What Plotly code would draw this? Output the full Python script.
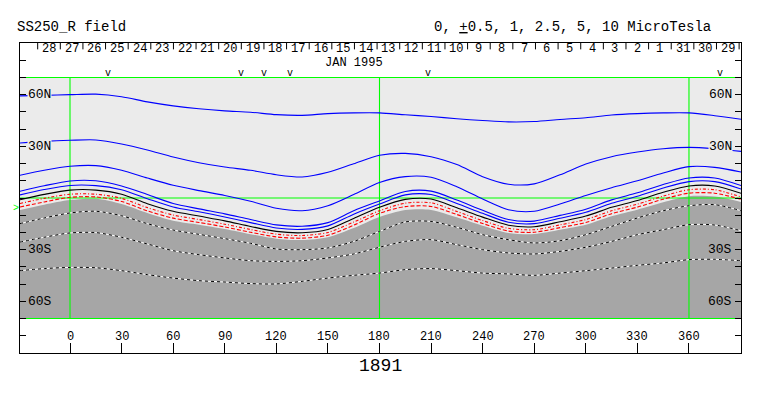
import plotly.graph_objects as go

# ---------------- data ----------------
lons = [-29.1, -15, 0, 15, 30, 45, 60, 75, 90, 105, 120, 135, 150, 165, 180,
        195, 210, 225, 240, 255, 270, 285, 300, 315, 330, 345, 360, 375, 390.3]

# positive-field contours (blue), top to bottom
blue_1 = [59.3, 59.6, 60.0, 60.3, 58.8, 55.8, 53.5, 51.8, 50.6, 49.8, 48.4, 48.0, 49.0, 49.4, 49.4,
          48.3, 47.3, 46.0, 45.0, 44.2, 44.4, 45.6, 46.6, 48.2, 49.0, 49.4, 49.4, 47.8, 45.7]
blue_2 = [31.9, 32.9, 33.5, 33.7, 31.4, 27.9, 23.8, 20.5, 18.0, 16.1, 13.5, 12.2, 14.9, 19.9, 24.8,
          25.9, 24.0, 19.4, 12.4, 8.0, 8.2, 13.5, 19.7, 24.0, 26.7, 28.6, 29.4, 28.6, 27.1]
blue_3 = [13.2, 16.1, 18.4, 18.8, 16.1, 11.6, 7.4, 4.3, 1.5, -1.9, -6.0, -7.4, -4.5, 2.0, 9.0,
          12.4, 12.0, 6.5, -0.6, -6.8, -7.7, -3.5, 1.5, 6.0, 10.0, 14.5, 18.2, 17.8, 15.1]
blue_4 = [3.9, 7.1, 9.9, 10.0, 7.0, 2.0, -3.2, -6.3, -9.2, -12.5, -15.6, -16.4, -14.3, -7.4, -1.7,
          3.8, 4.0, -1.2, -7.1, -12.5, -13.4, -10.1, -6.5, -1.1, 3.0, 7.8, 11.6, 11.6, 7.2]
blue_5 = [1.8, 4.9, 7.3, 7.2, 4.8, -0.4, -5.2, -8.0, -11.0, -14.3, -17.4, -18.2, -16.2, -9.4, -3.5,
          1.8, 2.0, -3.2, -8.9, -14.1, -14.9, -11.8, -8.3, -3.1, 1.0, 5.8, 9.5, 9.5, 5.2]
# black solid contour
black_1 = [-1.0, 2.1, 4.6, 4.6, 2.2, -3.3, -7.7, -10.5, -13.3, -16.5, -19.4, -20.2, -18.3, -11.9, -5.4,
           -0.8, -0.6, -5.7, -11.1, -15.8, -16.7, -13.8, -10.5, -5.4, -1.5, 3.3, 7.0, 7.0, 2.7]
# red contours
red_dashdot = [-3.2, -0.2, 2.2, 2.2, -0.2, -5.6, -9.9, -12.5, -15.2, -18.3, -21.0, -21.8, -20.0, -14.0, -7.4,
               -3.0, -2.8, -7.8, -13.1, -17.6, -18.4, -15.6, -12.5, -7.4, -3.6, 1.1, 4.8, 4.8, 0.6]
red_dash = [-5.2, -2.3, 0.4, 0.6, -2.0, -7.5, -11.7, -14.2, -16.8, -19.9, -22.6, -23.3, -21.6, -15.8, -8.9,
            -5.0, -4.9, -9.6, -14.8, -19.2, -19.9, -17.2, -14.2, -9.1, -5.3, -0.7, 2.8, 2.8, -0.8]
# boundary of the negative (grey) region
neutral = [-7.0, -3.9, -1.2, -0.5, -3.5, -8.7, -13.2, -15.5, -18.0, -21.0, -23.6, -24.4, -22.8, -17.4, -11.0,
           -7.0, -6.9, -11.2, -16.1, -20.3, -20.9, -18.4, -15.5, -10.6, -6.8, -2.5, 1.0, 0.8, -2.3]
# negative-field contours (black/white dashed)
neg_1 = [-14.9, -11.6, -8.7, -7.7, -10.3, -14.9, -18.6, -21.1, -23.6, -26.3, -29.6, -30.0, -29.0, -25.2, -19.4,
         -13.9, -13.6, -17.0, -21.3, -24.2, -26.1, -24.8, -21.3, -16.5, -11.6, -7.4, -4.5, -3.9, -7.4]
neg_2 = [-25.6, -22.8, -20.3, -20.1, -22.8, -26.7, -30.6, -32.9, -34.8, -36.4, -36.8, -36.4, -34.8, -32.5, -28.6,
         -25.2, -24.2, -27.1, -30.0, -31.9, -32.5, -31.0, -28.6, -25.2, -21.3, -18.4, -15.5, -15.7, -19.0]
neg_3 = [-42.2, -41.0, -40.3, -40.5, -42.2, -44.5, -46.5, -48.0, -48.8, -49.7, -49.9, -48.4, -46.5, -44.9, -43.6,
         -41.6, -41.0, -42.2, -43.6, -44.1, -44.9, -43.6, -42.2, -40.7, -39.1, -37.7, -35.8, -35.6, -36.4]

# axes / annotations
lon_ticks = [0, 30, 60, 90, 120, 150, 180, 210, 240, 270, 300, 330, 360]
lat_ticks = [-80, -70, -60, -50, -40, -30, -20, -10, 0, 10, 20, 30, 40, 50, 60, 70, 80]
lat_labels = {60: "60N", 30: "30N", -30: "30S", -60: "60S"}
grid_lons = [0, 180, 360]
day_labels = [28, 27, 26, 25, 24, 23, 22, 21, 20, 19, 18, 17, 16, 15, 14, 13, 12, 11, 10,
              9, 8, 7, 6, 5, 4, 3, 2, 1, 31, 30, 29]
day_first_tick = -18.8      # Carrington longitude of first day boundary
deg_per_day = 13.16
marker_lons = [22, 99.5, 113, 128, 208, 378]
month_label = "JAN 1995"
rotation = "1891"

X0, X1 = -29.08, 390.26
LAT_LIM = 70
FONT = "Liberation Mono"
LIGHT = "#ebebeb"
DARK = "#a6a6a6"
GREEN = "#00ff00"

fig = go.Figure()

# grey negative-polarity region
fig.add_trace(go.Scatter(x=lons, y=[-LAT_LIM] * len(lons), mode="lines",
                         line=dict(width=0), hoverinfo="skip", showlegend=False))
fig.add_trace(go.Scatter(x=lons, y=neutral, mode="lines", fill="tonexty", fillcolor=DARK,
                         line=dict(width=0, shape="spline", smoothing=0.8),
                         hoverinfo="skip", showlegend=False))

# green reference lines
gx, gy = [], []
for g in grid_lons:
    gx += [g, g, None]
    gy += [-LAT_LIM, LAT_LIM, None]
for lat in (-LAT_LIM, 0, LAT_LIM):
    gx += [X0, X1, None]
    gy += [lat, lat, None]
fig.add_trace(go.Scatter(x=gx, y=gy, mode="lines", line=dict(color=GREEN, width=1.1),
                         hoverinfo="skip", showlegend=False))

def curve(y, color, width=1.0, dash=None):
    fig.add_trace(go.Scatter(x=lons, y=y, mode="lines",
                             line=dict(color=color, width=width, dash=dash,
                                       shape="spline", smoothing=0.8),
                             hoverinfo="skip", showlegend=False))

for neg in (neg_1, neg_2, neg_3):
    curve(neg, "white", 1.0)
    curve(neg, "black", 1.0, "3px,3px")

curve(red_dash, "#ff0000", 1.1, "4px,2px")
curve(red_dashdot, "#ff0000", 1.1, "3px,2px,1px,2px")
curve(black_1, "black", 1.1)
for b in (blue_5, blue_4, blue_3, blue_2, blue_1):
    curve(b, "#0000ff", 1.1)

# day ticks along the top
tx, ty = [], []
day_ticks = [day_first_tick + deg_per_day * k for k in range(len(day_labels) + 1)]
for t in day_ticks:
    tx += [t, t, None]
    ty += [90, 86.3, None]
fig.add_trace(go.Scatter(x=tx, y=ty, mode="lines", line=dict(color="black", width=1),
                         hoverinfo="skip", showlegend=False, cliponaxis=False))

def txt(x, y, text, size, xref="x", yref="y", xanchor="center", color="black", **kw):
    return dict(x=x, y=y, xref=xref, yref=yref, text=text, showarrow=False,
                xanchor=xanchor, yanchor="middle",
                font=dict(family=FONT, size=size, color=color), **kw)

ann = []
for k, d in enumerate(day_labels):
    ann.append(txt((day_ticks[k] + day_ticks[k + 1]) / 2, 86.6, str(d), 12))
ann.append(txt(164.9, 78.6, month_label, 12))
for m in marker_lons:
    ann.append(txt(m, 72.4, "v", 10))
for lon in lon_ticks:
    ann.append(txt(lon, -80.8, str(lon), 12))
for lat, lab in lat_labels.items():
    bg = LIGHT if lat > 0 else DARK
    ann.append(txt(0.0095, lat, lab, 13, xref="paper", xanchor="left", bgcolor=bg, borderpad=0))
    ann.append(txt(0.9895, lat, lab, 13, xref="paper", xanchor="right", bgcolor=bg, borderpad=0))
ann.append(txt(-0.0055, -6, ">", 10, xref="paper", color=GREEN))
ann.append(txt(-0.007, 1.0516, "SS250_R field", 14, xref="paper", yref="paper", xanchor="left"))
ann.append(txt(0.571, 1.0516, "0, <u>+</u>0.5, 1, 2.5, 5, 10 MicroTesla", 14,
               xref="paper", yref="paper", xanchor="left"))
ann.append(txt(0.5, -0.042, rotation, 18, xref="paper", yref="paper"))

# page body has an 8px margin: size the figure so the frame lands where the reference has it
fig.update_layout(
    width=755, height=380,
    margin=dict(l=12, r=22, t=35, b=35),
    paper_bgcolor="white", plot_bgcolor="white",
    showlegend=False,
    annotations=ann,
    shapes=[dict(type="rect", xref="x", yref="y", x0=X0, x1=X1, y0=-LAT_LIM, y1=LAT_LIM,
                 fillcolor=LIGHT, line=dict(width=0), layer="below")],
    xaxis=dict(range=[X0, X1], showgrid=False, zeroline=False, showline=True,
               linecolor="black", linewidth=1.2, mirror=True,
               tickvals=lon_ticks, ticks="inside", ticklen=10, tickcolor="black",
               showticklabels=False),
    yaxis=dict(range=[-90, 90], showgrid=False, zeroline=False, showline=True,
               linecolor="black", linewidth=1.2, mirror="ticks",
               tickvals=lat_ticks, ticks="inside", ticklen=6, tickcolor="black",
               showticklabels=False),
)

fig.write_html("out.html")
